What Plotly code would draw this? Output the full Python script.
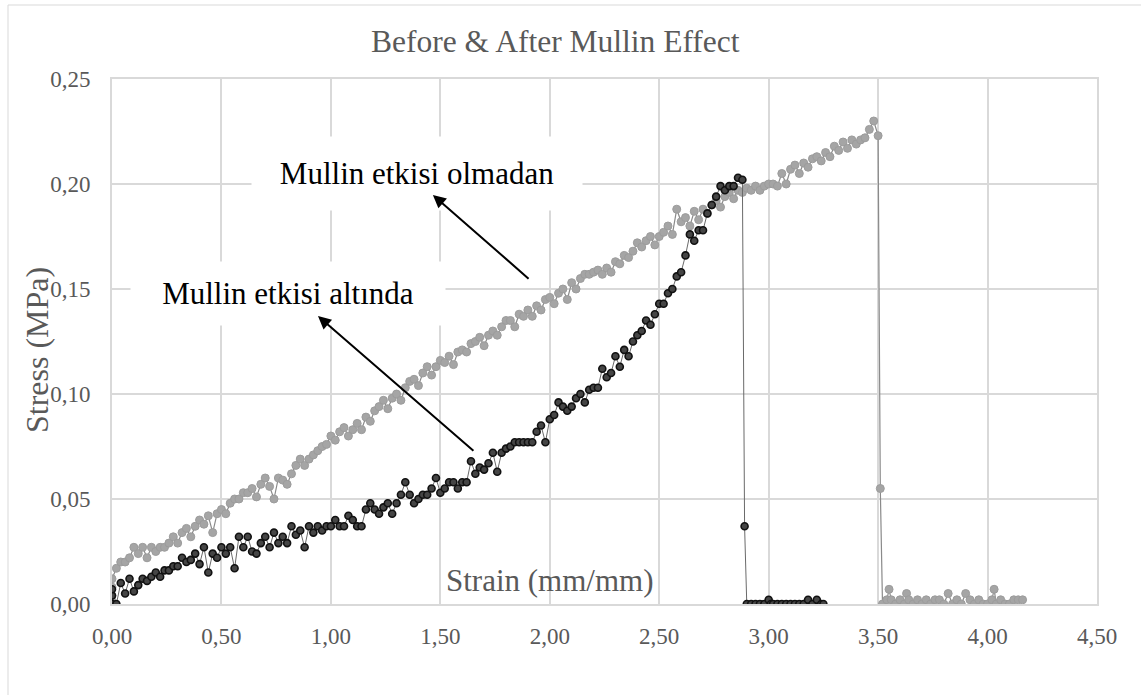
import plotly.graph_objects as go

# ---------------- data ----------------
# Series "Mullin etkisi olmadan" (light gray)
g_x = [0.00, 0.00, 0.00, 0.00,
       0.02, 0.04, 0.06, 0.08, 0.10, 0.12, 0.14, 0.16, 0.18, 0.20,
       0.22, 0.24, 0.26, 0.28, 0.30, 0.32, 0.34, 0.36, 0.38, 0.40,
       0.42, 0.44, 0.46, 0.48, 0.50, 0.52, 0.54, 0.56, 0.58, 0.60,
       0.62, 0.64, 0.66, 0.68, 0.70, 0.72, 0.74, 0.76, 0.78, 0.80,
       0.82, 0.84, 0.86, 0.88, 0.90, 0.92, 0.94, 0.96, 0.98, 1.00,
       1.02, 1.04, 1.06, 1.08, 1.10, 1.12, 1.14, 1.16, 1.18, 1.20,
       1.22, 1.24, 1.26, 1.28, 1.30, 1.32, 1.34, 1.36, 1.38, 1.40,
       1.42, 1.44, 1.46, 1.48, 1.50, 1.52, 1.54, 1.56, 1.58, 1.60,
       1.62, 1.64, 1.66, 1.68, 1.70, 1.72, 1.74, 1.76, 1.78, 1.80,
       1.82, 1.84, 1.86, 1.88, 1.90, 1.92, 1.94, 1.96, 1.98, 2.00,
       2.02, 2.04, 2.06, 2.08, 2.10, 2.12, 2.14, 2.16, 2.18, 2.20,
       2.22, 2.24, 2.26, 2.28, 2.30, 2.32, 2.34, 2.36, 2.38, 2.40,
       2.42, 2.44, 2.46, 2.48, 2.50, 2.52, 2.54, 2.56, 2.58, 2.60,
       2.62, 2.64, 2.66, 2.68, 2.70, 2.72, 2.74, 2.76, 2.78, 2.80,
       2.82, 2.84, 2.86, 2.88, 2.90, 2.92, 2.94, 2.96, 2.98, 3.00,
       3.02, 3.04, 3.06, 3.08, 3.10, 3.12, 3.14, 3.16, 3.18, 3.20,
       3.22, 3.24, 3.26, 3.28, 3.30, 3.32, 3.34, 3.36, 3.38, 3.40,
       3.42, 3.44, 3.46, 3.48, 3.50,
       3.51, 3.52, 3.54, 3.55, 3.56, 3.58, 3.60, 3.62, 3.63, 3.64,
       3.66, 3.68, 3.70, 3.72, 3.74, 3.76, 3.78, 3.80, 3.82, 3.84,
       3.86, 3.88, 3.90, 3.92, 3.94, 3.96, 3.98, 4.00, 4.02, 4.03,
       4.04, 4.06, 4.08, 4.10, 4.12, 4.14, 4.16]
g_y = [0.000, 0.004, 0.008, 0.012,
       0.017, 0.020, 0.020, 0.022, 0.027, 0.024, 0.027, 0.022, 0.027, 0.025,
       0.027, 0.027, 0.029, 0.032, 0.029, 0.034, 0.036, 0.032, 0.037, 0.040,
       0.038, 0.042, 0.034, 0.043, 0.045, 0.043, 0.048, 0.050, 0.050, 0.053,
       0.053, 0.055, 0.051, 0.057, 0.060, 0.056, 0.050, 0.060, 0.059, 0.057,
       0.062, 0.066, 0.069, 0.066, 0.069, 0.071, 0.073, 0.075, 0.076, 0.080,
       0.078, 0.082, 0.084, 0.080, 0.083, 0.086, 0.083, 0.089, 0.087, 0.092,
       0.094, 0.097, 0.093, 0.098, 0.100, 0.097, 0.103, 0.106, 0.107, 0.104,
       0.110, 0.113, 0.109, 0.113, 0.116, 0.115, 0.118, 0.114, 0.120, 0.121,
       0.120, 0.124, 0.125, 0.127, 0.123, 0.128, 0.130, 0.128, 0.132, 0.135,
       0.135, 0.132, 0.138, 0.137, 0.140, 0.137, 0.142, 0.140, 0.145, 0.146,
       0.143, 0.148, 0.150, 0.145, 0.153, 0.150, 0.155, 0.157, 0.157, 0.158,
       0.159, 0.157, 0.160, 0.158, 0.163, 0.162, 0.166, 0.165, 0.168, 0.172,
       0.170, 0.173, 0.175, 0.171, 0.175, 0.177, 0.180, 0.176, 0.188, 0.182,
       0.184, 0.180, 0.187, 0.183, 0.188, 0.186, 0.190, 0.192, 0.189, 0.194,
       0.196, 0.193, 0.197, 0.196, 0.198, 0.197, 0.199, 0.197, 0.199, 0.200,
       0.200, 0.199, 0.205, 0.200, 0.207, 0.209, 0.205, 0.210, 0.208, 0.212,
       0.213, 0.211, 0.215, 0.213, 0.218, 0.216, 0.220, 0.217, 0.221, 0.219,
       0.221, 0.222, 0.226, 0.230, 0.223,
       0.055, 0.000, 0.002, 0.007, 0.002, 0.000, 0.002, 0.000, 0.005, 0.002,
       0.000, 0.002, 0.000, 0.002, 0.000, 0.002, 0.002, 0.000, 0.005, 0.000,
       0.002, 0.000, 0.005, 0.002, 0.000, 0.002, 0.000, 0.000, 0.002, 0.007,
       0.000, 0.002, 0.000, 0.000, 0.002, 0.002, 0.002]

# Series "Mullin etkisi altında" (dark)
b_x = [0.00, 0.00, 0.00,
       0.02, 0.04, 0.06, 0.08, 0.10, 0.12, 0.14, 0.16, 0.18, 0.20,
       0.22, 0.24, 0.26, 0.28, 0.30, 0.32, 0.34, 0.36, 0.38, 0.40,
       0.42, 0.44, 0.46, 0.48, 0.50, 0.52, 0.54, 0.56, 0.58, 0.60,
       0.62, 0.64, 0.66, 0.68, 0.70, 0.72, 0.74, 0.76, 0.78, 0.80,
       0.82, 0.84, 0.86, 0.88, 0.90, 0.92, 0.94, 0.96, 0.98, 1.00,
       1.02, 1.04, 1.06, 1.08, 1.10, 1.12, 1.14, 1.16, 1.18, 1.20,
       1.22, 1.24, 1.26, 1.28, 1.30, 1.32, 1.34, 1.36, 1.38, 1.40,
       1.42, 1.44, 1.46, 1.48, 1.50, 1.52, 1.54, 1.56, 1.58, 1.60,
       1.62, 1.64, 1.66, 1.68, 1.70, 1.72, 1.74, 1.76, 1.78, 1.80,
       1.82, 1.84, 1.86, 1.88, 1.90, 1.92, 1.94, 1.96, 1.98, 2.00,
       2.02, 2.04, 2.06, 2.08, 2.10, 2.12, 2.14, 2.16, 2.18, 2.20,
       2.22, 2.24, 2.26, 2.28, 2.30, 2.32, 2.34, 2.36, 2.38, 2.40,
       2.42, 2.44, 2.46, 2.48, 2.50, 2.52, 2.54, 2.56, 2.58, 2.60,
       2.62, 2.64, 2.66, 2.68, 2.70, 2.72, 2.74, 2.76, 2.78, 2.80,
       2.82, 2.84, 2.86, 2.88,
       2.89, 2.90, 2.92, 2.94, 2.96, 2.98, 3.00, 3.01, 3.02, 3.04,
       3.06, 3.08, 3.10, 3.12, 3.14, 3.16, 3.18, 3.20, 3.22, 3.24, 3.25]
b_y = [0.000, 0.004, 0.007,
       0.000, 0.010, 0.005, 0.012, 0.006, 0.009, 0.012, 0.011, 0.013, 0.015,
       0.013, 0.016, 0.016, 0.018, 0.018, 0.022, 0.020, 0.021, 0.024, 0.019,
       0.027, 0.015, 0.024, 0.022, 0.027, 0.024, 0.027, 0.017, 0.032, 0.027,
       0.032, 0.025, 0.024, 0.029, 0.032, 0.027, 0.034, 0.029, 0.032, 0.029,
       0.037, 0.033, 0.035, 0.027, 0.037, 0.034, 0.037, 0.035, 0.037, 0.037,
       0.040, 0.037, 0.037, 0.042, 0.040, 0.037, 0.037, 0.045, 0.048, 0.045,
       0.043, 0.046, 0.048, 0.043, 0.048, 0.052, 0.058, 0.052, 0.048, 0.050,
       0.052, 0.052, 0.055, 0.060, 0.053, 0.055, 0.058, 0.058, 0.055, 0.058,
       0.058, 0.068, 0.062, 0.065, 0.064, 0.067, 0.072, 0.063, 0.072, 0.074,
       0.075, 0.077, 0.077, 0.077, 0.077, 0.077, 0.082, 0.085, 0.077, 0.088,
       0.090, 0.096, 0.094, 0.092, 0.094, 0.098, 0.100, 0.096, 0.102, 0.103,
       0.103, 0.112, 0.108, 0.110, 0.118, 0.113, 0.121, 0.118, 0.125, 0.128,
       0.130, 0.135, 0.133, 0.138, 0.143, 0.143, 0.148, 0.150, 0.156, 0.158,
       0.166, 0.176, 0.173, 0.178, 0.178, 0.186, 0.190, 0.194, 0.199, 0.197,
       0.199, 0.199, 0.203, 0.202,
       0.037, 0.000, 0.000, 0.000, 0.000, 0.000, 0.002, 0.000, 0.000, 0.000,
       0.000, 0.000, 0.000, 0.000, 0.000, 0.000, 0.002, 0.000, 0.002, 0.000, 0.000]

x_ticks = [0.0, 0.5, 1.0, 1.5, 2.0, 2.5, 3.0, 3.5, 4.0, 4.5]
y_ticks = [0.0, 0.05, 0.10, 0.15, 0.20, 0.25]

title_text = "Before & After Mullin Effect"
x_title = "Strain (mm/mm)"
y_title = "Stress (MPa)"
label_top = "Mullin etkisi olmadan"
label_low = "Mullin etkisi altında"

# ---------------- figure ----------------
SERIF = "Liberation Serif, Times New Roman, serif"
W, H = 1141, 695
L, R, T, B = 112, 44, 79, 91
PW, PH = W - L - R, H - T - B


def px_x(p):  # pixel -> paper x
    return (p - L) / PW


def px_y(p):  # pixel -> paper y
    return (H - B - p) / PH


fig = go.Figure()
fig.add_trace(go.Scatter(
    x=g_x, y=g_y, mode="lines+markers",
    line=dict(color="#8a8a8a", width=1.2),
    marker=dict(size=8, color="#A5A5A5", line=dict(color="#9c9c9c", width=1)),
    showlegend=False, hoverinfo="skip"))
fig.add_trace(go.Scatter(
    x=b_x, y=b_y, mode="lines+markers",
    line=dict(color="#6a6a6a", width=1),
    marker=dict(size=7, color="#454545", line=dict(color="#111111", width=1.6)),
    showlegend=False, hoverinfo="skip"))

axis_common = dict(showgrid=True, gridcolor="#D9D9D9", gridwidth=1.8,
                   zeroline=False, showline=True, linecolor="#D9D9D9",
                   linewidth=1.8, mirror=True, ticks="",
                   tickfont=dict(family=SERIF, size=23, color="#595959"),
                   tickformat=".2f")
fig.update_xaxes(range=[0, 4.5], tickvals=x_ticks, ticklabelstandoff=10,
                 **axis_common)
fig.update_yaxes(range=[0, 0.25], tickvals=y_ticks, ticklabelstandoff=15,
                 **axis_common)

annotations = [
    dict(text=title_text, x=px_x(555), y=px_y(42), xref="paper", yref="paper",
         showarrow=False, font=dict(family=SERIF, size=31.5, color="#595959"),
         xanchor="center", yanchor="middle"),
    dict(text=x_title, x=px_x(550), y=px_y(580), xref="paper", yref="paper",
         showarrow=False, font=dict(family=SERIF, size=31, color="#595959"),
         xanchor="center", yanchor="middle"),
    dict(text=y_title, x=px_x(37), y=px_y(350), xref="paper", yref="paper",
         showarrow=False, textangle=-90,
         font=dict(family=SERIF, size=32, color="#595959"),
         xanchor="center", yanchor="middle"),
    # labels with white boxes
    dict(text=label_top, x=px_x(417), y=px_y(173), xref="paper", yref="paper",
         showarrow=False, font=dict(family=SERIF, size=31, color="#000000"),
         bgcolor="#FFFFFF", width=326, height=69, borderpad=2,
         xanchor="center", yanchor="middle"),
    dict(text=label_low, x=px_x(288), y=px_y(293), xref="paper", yref="paper",
         showarrow=False, font=dict(family=SERIF, size=31, color="#000000"),
         bgcolor="#FFFFFF", width=310, height=59, borderpad=2,
         xanchor="center", yanchor="middle"),
    # arrows (head at x,y ; tail at ax,ay), drawn on top of the label boxes
    dict(text="", x=1.466, y=0.1948, ax=1.910, ay=0.1543, xref="x", yref="y",
         axref="x", ayref="y", showarrow=True, arrowhead=2, arrowsize=1.3,
         arrowwidth=2, arrowcolor="#000000"),
    dict(text="", x=0.941, y=0.1371, ax=1.658, ay=0.0724, xref="x", yref="y",
         axref="x", ayref="y", showarrow=True, arrowhead=2, arrowsize=1.3,
         arrowwidth=2, arrowcolor="#000000"),
]

shapes = [
    dict(type="line", xref="paper", yref="paper", x0=px_x(8), x1=px_x(8),
         y0=px_y(5), y1=px_y(H + 5), line=dict(color="#D9D9D9", width=1)),
    dict(type="line", xref="paper", yref="paper", x0=px_x(8), x1=px_x(W + 5),
         y0=px_y(5), y1=px_y(5), line=dict(color="#D9D9D9", width=1)),
]

fig.update_layout(
    width=W, height=H, autosize=False,
    margin=dict(l=L, r=R, t=T, b=B),
    paper_bgcolor="#FFFFFF", plot_bgcolor="#FFFFFF",
    separators=", ",
    annotations=annotations, shapes=shapes,
    font=dict(family=SERIF),
)

fig.write_html("out.html", config={"displayModeBar": False})
